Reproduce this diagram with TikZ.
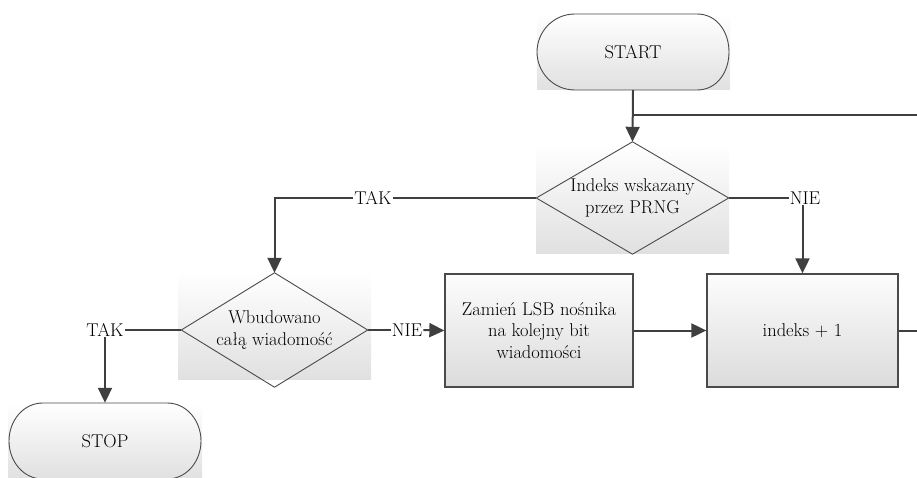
\documentclass[tikz,border=0pt]{standalone}
\usepackage{fontspec}
\usetikzlibrary{arrows.meta,calc}
\definecolor{ln}{HTML}{3F3F3F}
\definecolor{bd}{HTML}{4A4A4A}
\newcommand{\fsz}{\fontsize{18.5}{21.5}\selectfont}
\tikzset{
  txt/.style={font=\fsz, text=black, align=center},
  bgshade/.style={shading=axis, top color=white, bottom color=white!88!black, shading angle=0},
  boxnode/.style={txt, draw=bd, line width=1.3pt, shading=axis, top color=white!99!black, bottom color=white!86!black, minimum width=189pt, minimum height=113pt, inner sep=0pt},
  plain/.style={txt, minimum width=190pt, minimum height=110pt, inner sep=0pt},
  lbl/.style={font=\fsz, inner sep=1pt, text height=12.5pt, text depth=0pt},
  conn/.style={draw=ln, line width=2pt},
  arr/.style={conn, -{Triangle[length=15pt,width=14pt]}},
  outline/.style={draw=bd, line width=0.9pt},
}
\begin{document}
\begin{tikzpicture}[x=1pt,y=-1pt]
\useasboundingbox (0,0) rectangle (917,478);
\clip (0,0) rectangle (917,478);
% backgrounds
\shade[bgshade] (537,14) rectangle (730,90);
\shade[bgshade] (536,143) rectangle (729,253);
\shade[bgshade] (178,272) rectangle (371,379);
\shade[bgshade] (8,403) rectangle (202,479);
% terminals
\node[plain, minimum width=192pt, minimum height=76pt] (start) at (633,52) {START};
\draw[outline, shift={(start.center)}] (-58,-38) -- (64,-38)
  .. controls (84,-38) and (96,-20) .. (96,0)
  .. controls (96,20) and (84,38) .. (64,38) -- (-58,38)
  .. controls (-80,38) and (-96,20) .. (-96,0)
  .. controls (-96,-20) and (-80,-38) .. (-58,-38) -- cycle;
\node[plain, minimum width=192pt, minimum height=76pt] (stop) at (105,441) {STOP};
\draw[outline, shift={(stop.center)}] (-62,-38) -- (62,-38)
  .. controls (82,-38) and (96,-20) .. (96,0)
  .. controls (96,20) and (82,38) .. (62,38) -- (-62,38)
  .. controls (-82,38) and (-96,20) .. (-96,0)
  .. controls (-96,-20) and (-82,-38) .. (-62,-38) -- cycle;
% decisions
\node[plain, minimum width=192pt, minimum height=112pt] (d1) at (632.5,198) {Indeks wskazany\\przez PRNG};
\draw[outline] (d1.north) -- (d1.east) -- (d1.south) -- (d1.west) -- cycle;
\node[plain, minimum width=186pt, minimum height=114pt] (d2) at (274.5,330) {Wbudowano\\całą wiadomość};
\draw[outline] (d2.north) -- (d2.east) -- (d2.south) -- (d2.west) -- cycle;
% process boxes
\node[boxnode, minimum width=188pt] (b2) at (539,330.5) {Zamień LSB nośnika\\na kolejny bit\\wiadomości};
\node[boxnode, minimum width=191pt] (b3) at (802.5,330.5) {indeks + 1};
% labels
\node[lbl] (tak1) at (373,198) {TAK};
\node[lbl] (nie1) at (805,198) {NIE};
\node[lbl] (tak2) at (105,330) {TAK};
\node[lbl] (nie2) at (407,330) {NIE};
% loop coordinates
\coordinate (loopR) at (930,115);
\coordinate (outR) at (930,330.5);
% connectors
\draw[arr] (start.south) -- (d1.north);
\draw[conn] (start.south |- loopR) -- (loopR);
\draw[conn] (d1.west) -- (tak1.east);
\draw[arr] (tak1.west) -| (d2.north);
\draw[conn] (d1.east) -- (nie1.west);
\draw[arr] (b3.north |- nie1.south) -- (b3.north);
\draw[conn] (d2.west) -- (tak2.east);
\draw[arr] (tak2.south) -- (stop.north);
\draw[conn] (d2.east) -- (nie2.west);
\draw[arr] (nie2.east) -- (b2.west);
\draw[arr] (b2.east) -- (b3.west);
\draw[conn] (b3.east) -- (outR);
\end{tikzpicture}
\end{document}
